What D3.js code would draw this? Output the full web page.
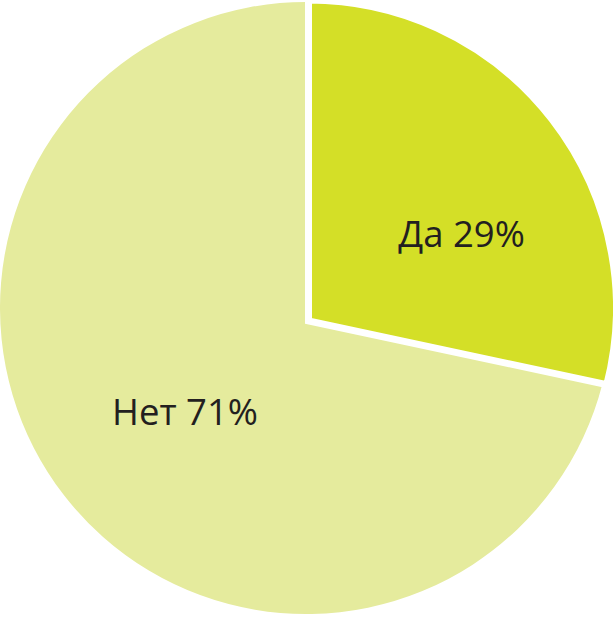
<!DOCTYPE html>
<html>
<head>
<meta charset="utf-8">
<script src="https://cdn.jsdelivr.net/npm/d3@7"></script>
<style>
  html, body { margin: 0; padding: 0; background: #ffffff; }
  svg { display: block; }
</style>
</head>
<body>
<div id="chart"></div>
<script>
// ---- data ----
const categories = ["Да", "Нет"];
const values = [29, 71];
const labels = ["Да 29%", "Нет 71%"];

// ---- layout / style ----
const W = 613, H = 617;
const colors = ["#d4df27", "#e5eb9d"];
const textColor = "#231f20";
// per-slice geometry: arc centre, radius, apex drop, stroke
const geom = [
  { cx: 308.5, cy: 308, r: 308, drop: 13, stroke: 7 },
  { cx: 306,   cy: 308, r: 306, drop: 13, stroke: 0 }
];
const labelPos = [ [461.5, 247], [185, 425] ];

const svg = d3.select("#chart").append("svg")
  .attr("width", W).attr("height", H);

const pie = d3.pie().sort(null).value(d => d)(values);

function slicePath(d, g) {
  const p = d3.path();
  const a0 = d.startAngle - Math.PI / 2, a1 = d.endAngle - Math.PI / 2;
  const vx = g.cx, vy = g.cy + g.drop;
  p.moveTo(vx, vy);
  p.lineTo(g.cx + g.r * Math.cos(a0), g.cy + g.r * Math.sin(a0));
  p.arc(g.cx, g.cy, g.r, a0, a1, false);
  p.closePath();
  return p.toString();
}

// draw "Нет" first, then "Да" on top with white separating stroke
const order = [1, 0];
svg.selectAll("path.slice")
  .data(order.map(i => ({ d: pie[i], i })))
  .join("path")
  .attr("class", "slice")
  .attr("d", o => slicePath(o.d, geom[o.i]))
  .attr("fill", o => colors[o.i])
  .attr("stroke", o => geom[o.i].stroke ? "#ffffff" : "none")
  .attr("stroke-width", o => geom[o.i].stroke)
  .attr("stroke-linejoin", "miter");

svg.selectAll("text.lbl")
  .data(labels)
  .join("text")
  .attr("class", "lbl")
  .attr("x", (d, i) => labelPos[i][0])
  .attr("y", (d, i) => labelPos[i][1])
  .attr("text-anchor", "middle")
  .attr("font-family", "'Open Sans', 'Noto Sans', sans-serif")
  .attr("font-size", 36.5)
  .attr("font-weight", 500)
  .attr("fill", textColor)
  .text(d => d);
</script>
</body>
</html>
